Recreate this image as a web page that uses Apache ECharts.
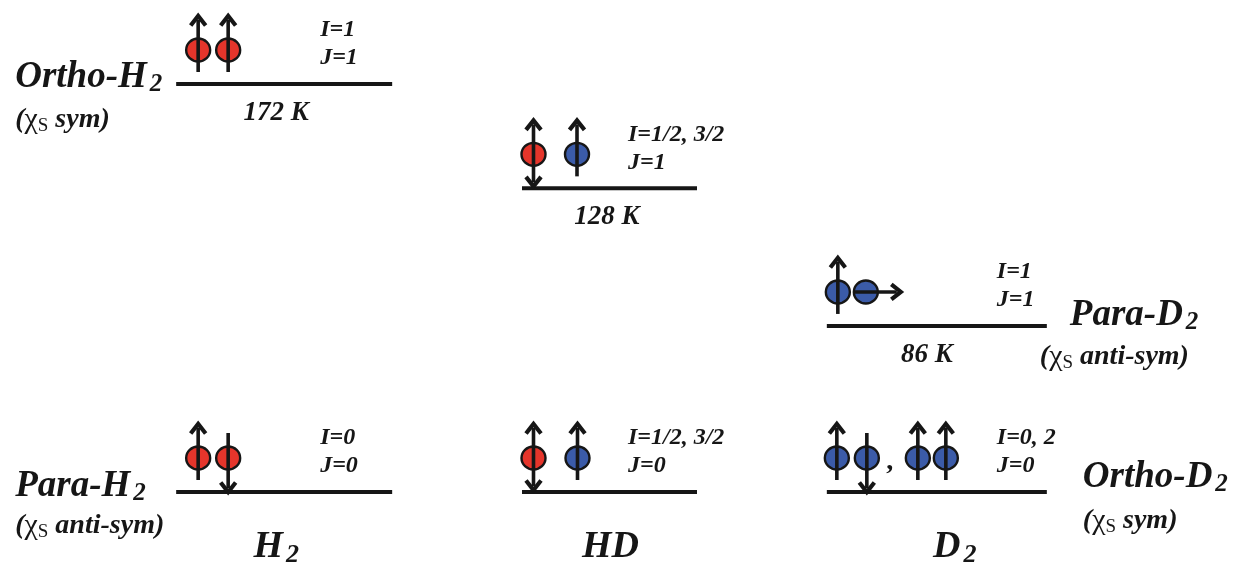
<!DOCTYPE html>
<html><head><meta charset="utf-8">
<script src="https://cdn.jsdelivr.net/npm/echarts@6/dist/echarts.min.js"></script>
<style>html,body{margin:0;padding:0;background:#fff}#c{width:1234px;height:569px}</style>
</head><body><div id="c"></div>
<script>
// ---- data ----
const molecules = ['H2', 'HD', 'D2'];                 // x categories
const levelMolecule = [0, 1, 2, 0, 1, 2];             // column of each level
// schematic level height on the diagram's energy scale (the Para-D2 86 K level is drawn lower, ~70, as in the figure)
const levelHeight = [172, 128, 70, 0, 0, 0];
const levelEnergyLabel = ['172 K', '128 K', '86 K', '', '', ''];
const levelNamePrefix = ['Ortho-', '', 'Para-', 'Para-', '', 'Ortho-'];
const levelNameAtom = ['H', '', 'D', 'H', '', 'D'];
const levelSymmetry = ['sym', '', 'anti-sym', 'anti-sym', '', 'sym'];
const levelI = ['I=1', 'I=1/2, 3/2', 'I=1', 'I=0', 'I=1/2, 3/2', 'I=0, 2'];
const levelJ = ['J=1', 'J=1', 'J=1', 'J=0', 'J=0', 'J=0'];
const levelSpins = [['up', 'up'], ['updown', 'up'], ['up', 'right'], ['up', 'down'], ['updown', 'up'], ['up', 'down', ',', 'up', 'up']];
const levelNuclei = [['H', 'H'], ['H', 'D'], ['D', 'D'], ['H', 'H'], ['H', 'D'], ['D', 'D', '', 'D', 'D']];

// ---- layout / style ----
const FAM = '"Liberation Serif", "Times New Roman", serif';
const INK = '#161616';
const NUC_COLOR = { H: '#e5352b', D: '#3b5ba8' };
const columnLayout = [
  { line: [-108, 108], qnX: 36, energyX: -8 },
  { line: [-88.5, 86.5], qnX: 17.5, energyX: -3.5 },
  { line: [-110, 110], qnX: 60, energyX: -10 }
];
const spinX = [[-86, -56], [-77, -33.5], [-99, -71], [-86, -56], [-77, -33], [-100, -70, -47, -19, 9]];
const nameLayout = [
  { name: [-269, -7], sym: [-269, 36] }, null,
  { name: [133, -11], sym: [103, 31] },
  { name: [-269, -6], sym: [-269, 34] }, null,
  { name: [146, -15], sym: [146, 29] }
];
const axisLabelShift = [-8, 0, 36];   // rich padding to nudge bottom labels

function arrowHead(x, y, dir) {
  let pts;
  if (dir === 'up') pts = [[x - 7.5, y + 9.5], [x, y], [x + 7.5, y + 9.5]];
  else if (dir === 'down') pts = [[x - 7.5, y - 9.5], [x, y], [x + 7.5, y - 9.5]];
  else pts = [[x - 9.5, y - 7.5], [x, y], [x - 9.5, y + 7.5]];
  return { type: 'polyline', shape: { points: pts }, style: { stroke: INK, lineWidth: 4.2, fill: null, lineJoin: 'miter', lineCap: 'butt' } };
}
function shaft(x1, y1, x2, y2) {
  return { type: 'line', shape: { x1, y1, x2, y2 }, style: { stroke: INK, lineWidth: 3.6 } };
}

function renderItem(params, api) {
  const col = api.value(0);
  const i = api.value(2);
  const p = api.coord([col, api.value(1)]);
  const cx = p[0], y = p[1];
  const L = columnLayout[col];
  const ch = [];
  ch.push({ type: 'line', shape: { x1: cx + L.line[0], y1: y, x2: cx + L.line[1], y2: y }, style: { stroke: INK, lineWidth: 4 } });

  levelSpins[i].forEach((s, k) => {
    const sx = cx + spinX[i][k];
    const cy = y - 34;
    if (s === ',') {
      ch.push({ type: 'text', style: { text: ',', x: sx, y: cy + 4, font: 'bold 28px ' + FAM, fill: INK, align: 'center', verticalAlign: 'middle' } });
      return;
    }
    ch.push({ type: 'ellipse', shape: { cx: sx, cy: cy, rx: 12, ry: 11.5 }, style: { fill: NUC_COLOR[levelNuclei[i][k]], stroke: INK, lineWidth: 2.4 } });
    if (s === 'up') { ch.push(shaft(sx, y - 12, sx, y - 64)); ch.push(arrowHead(sx, y - 68, 'up')); }
    else if (s === 'down') { ch.push(shaft(sx, y - 59, sx, y - 4)); ch.push(arrowHead(sx, y, 'down')); }
    else if (s === 'updown') { ch.push(shaft(sx, y - 64, sx, y - 6)); ch.push(arrowHead(sx, y - 68, 'up')); ch.push(arrowHead(sx, y - 2, 'down')); }
    else if (s === 'right') { ch.push(shaft(sx - 11, cy, sx + 31, cy)); ch.push(arrowHead(sx + 35, cy, 'right')); }
  });

  // quantum numbers
  ch.push({ type: 'text', style: { text: levelI[i], x: cx + L.qnX, y: y - 54, font: 'italic bold 24px ' + FAM, fill: INK, align: 'left', verticalAlign: 'middle' } });
  ch.push({ type: 'text', style: { text: levelJ[i], x: cx + L.qnX, y: y - 26, font: 'italic bold 24px ' + FAM, fill: INK, align: 'left', verticalAlign: 'middle' } });

  // energy
  if (levelEnergyLabel[i]) {
    ch.push({ type: 'text', style: { text: levelEnergyLabel[i], x: cx + L.energyX, y: y + 29, font: 'italic bold 27px ' + FAM, fill: INK, align: 'center', verticalAlign: 'middle' } });
  }

  // species name and symmetry
  const nl = nameLayout[i];
  if (nl) {
    ch.push({ type: 'text', style: {
      text: '{m|' + levelNamePrefix[i] + levelNameAtom[i] + '}{s|2}', x: cx + nl.name[0], y: y + nl.name[1],
      align: 'left', verticalAlign: 'middle',
      rich: {
        m: { font: 'italic bold 37px ' + FAM, fill: INK, lineHeight: 40, verticalAlign: 'middle' },
        s: { font: 'italic bold 25px ' + FAM, fill: INK, lineHeight: 26, verticalAlign: 'bottom', padding: [0, 0, 0, 3] }
      } } });
    ch.push({ type: 'text', style: {
      text: '{b|(}{c|χ}{x|S}{b| ' + levelSymmetry[i] + ')}', x: cx + nl.sym[0], y: y + nl.sym[1],
      align: 'left', verticalAlign: 'middle',
      rich: {
        b: { font: 'italic bold 28px ' + FAM, fill: INK, lineHeight: 32, verticalAlign: 'middle' },
        c: { font: 'normal 30px ' + FAM, fill: INK, lineHeight: 32, verticalAlign: 'middle' },
        x: { font: 'normal 19px ' + FAM, fill: INK, lineHeight: 24, verticalAlign: 'bottom' }
      } } });
  }
  return { type: 'group', children: ch };
}

const chart = echarts.init(document.getElementById('c'), null, { renderer: 'canvas' });
chart.setOption({
  backgroundColor: '#fff',
  animation: false,
  grid: { left: 121, right: 134, top: 65, bottom: 77, containLabel: false },
  xAxis: {
    type: 'category', data: molecules, boundaryGap: true,
    axisLine: { show: false }, axisTick: { show: false }, splitLine: { show: false },
    axisLabel: {
      margin: 34, interval: 0, color: INK,
      fontSize: 38, fontFamily: FAM, fontStyle: 'italic', fontWeight: 'bold',
      formatter: (v, idx) => {
        const pad = axisLabelShift[idx] > 0 ? '{p' + idx + '|}' : '';
        const tail = axisLabelShift[idx] < 0 ? '{p' + idx + '|}' : '';
        const body = /\d$/.test(v) ? '{m|' + v.slice(0, -1) + '}{s|' + v.slice(-1) + '}' : '{m|' + v + '}';
        return pad + body + tail;
      },
      rich: {
        m: { fontSize: 38, fontFamily: FAM, fontStyle: 'italic', fontWeight: 'bold', color: INK, lineHeight: 42, verticalAlign: 'middle' },
        s: { fontSize: 26, fontFamily: FAM, fontStyle: 'italic', fontWeight: 'bold', color: INK, lineHeight: 28, verticalAlign: 'bottom', padding: [0, 0, 0, 3] },
        p0: { width: Math.abs(axisLabelShift[0]) * 2, height: 10 },
        p1: { width: 0, height: 10 },
        p2: { width: Math.abs(axisLabelShift[2]), height: 10 }
      }
    }
  },
  yAxis: { type: 'value', min: 0, max: 180, show: false },
  series: [{
    type: 'custom', clip: false, renderItem,
    data: levelHeight.map((h, i) => [levelMolecule[i], h, i])
  }]
});
</script></body></html>
